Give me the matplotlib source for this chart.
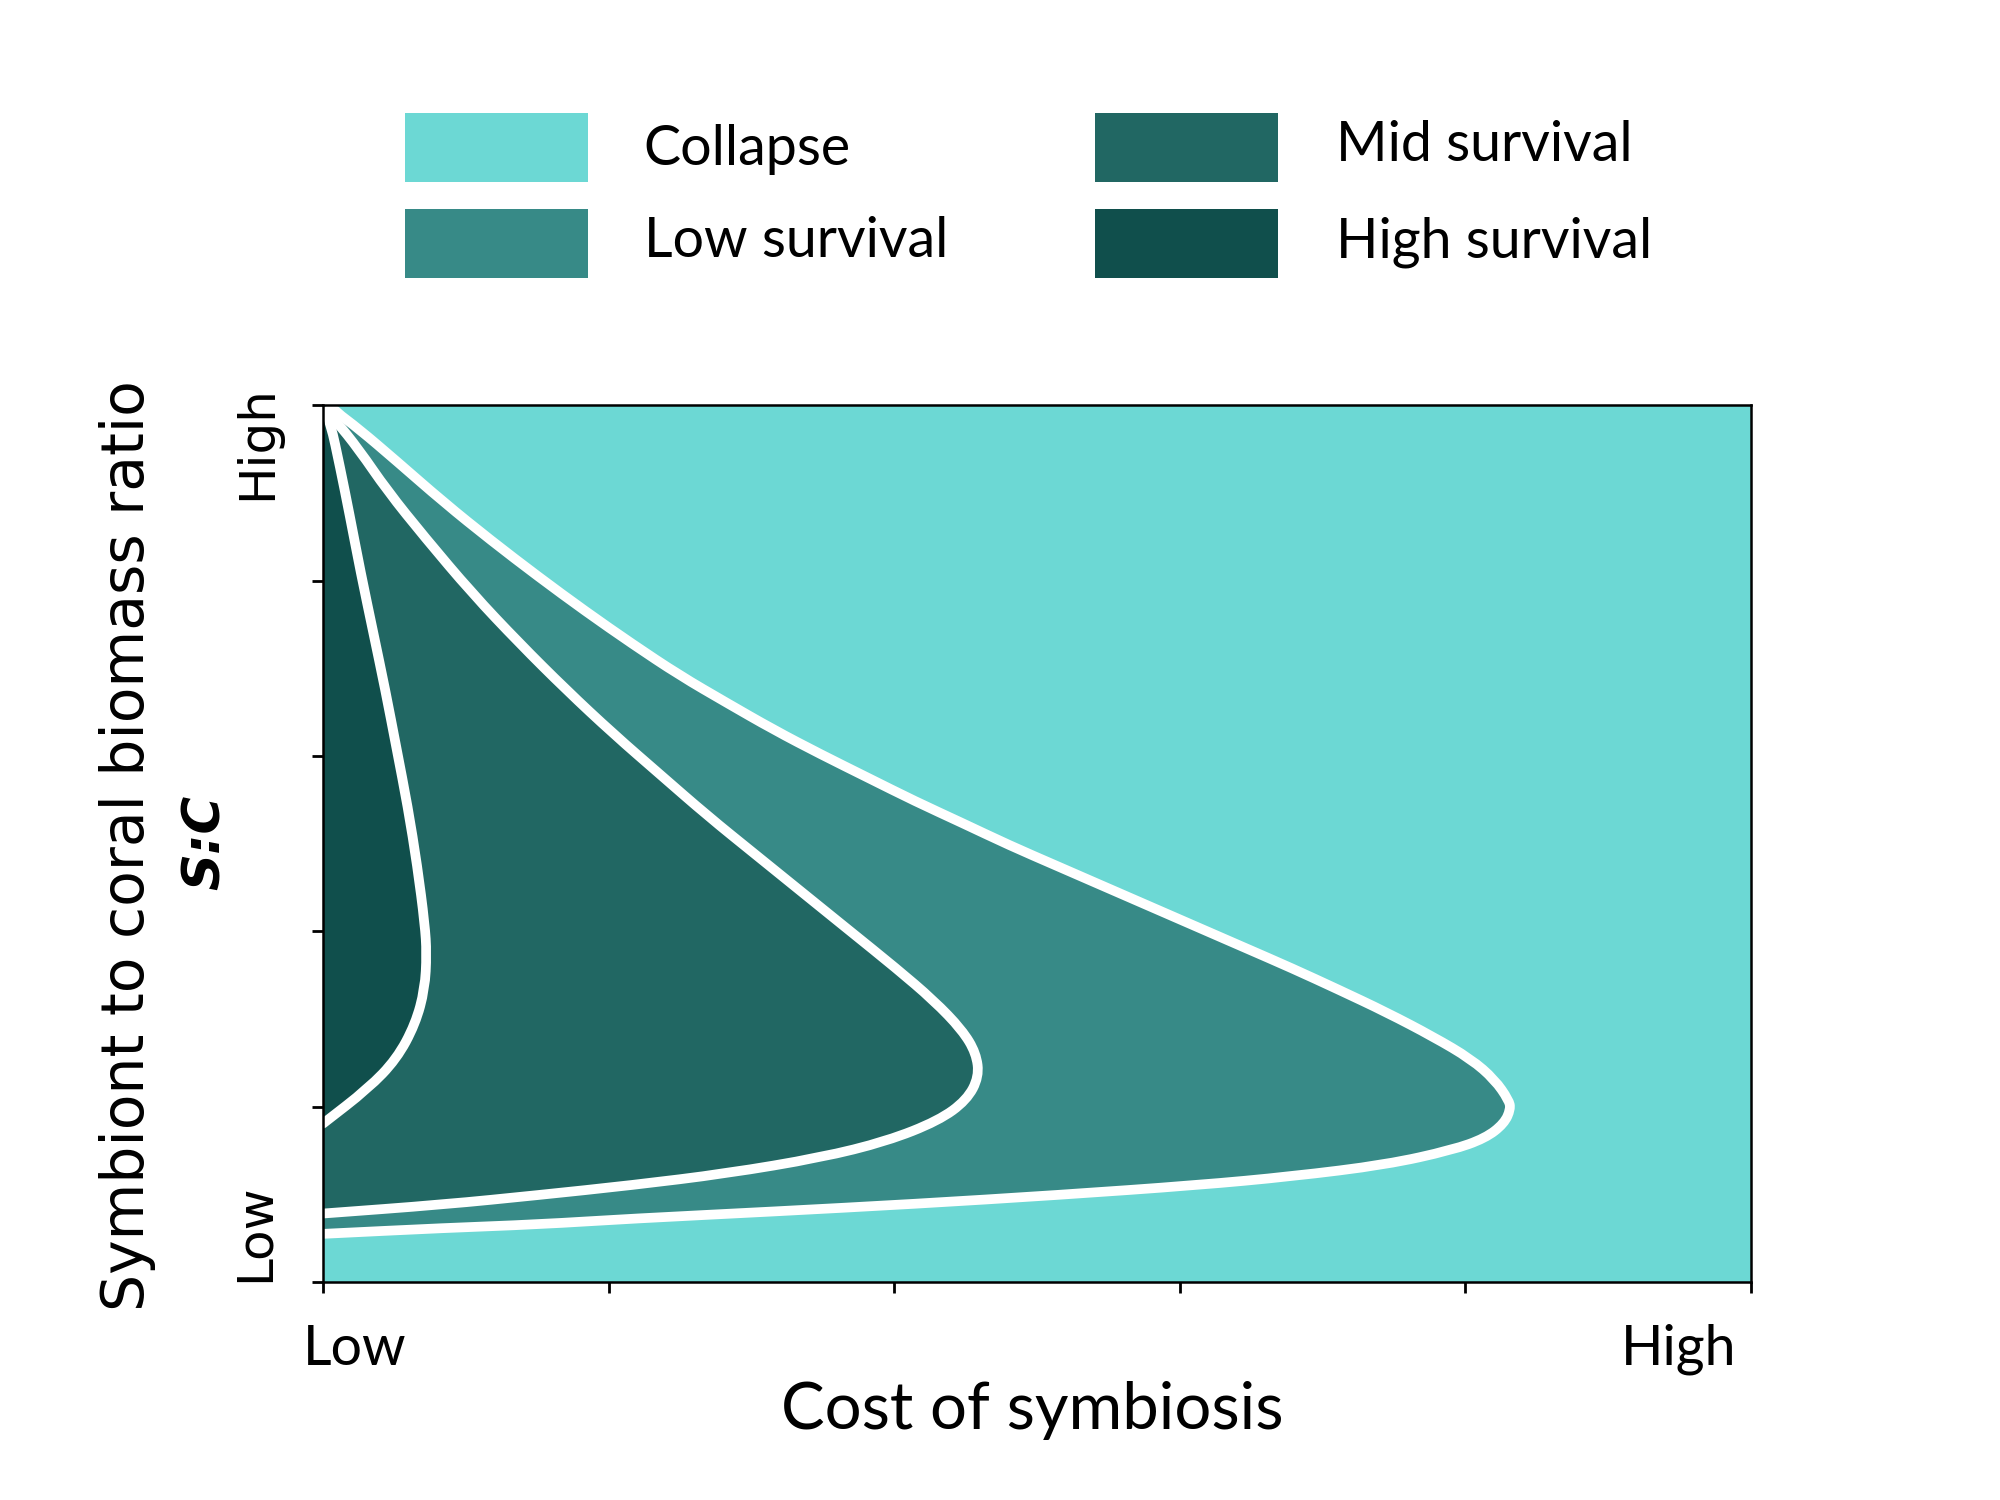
import matplotlib.pyplot as plt
from matplotlib.patches import Rectangle, PathPatch
from matplotlib.path import Path

# Survival regions over cost of symbiosis (x) and S:C ratio (y), both 0..1
categories = ["Collapse", "Low survival", "Mid survival", "High survival"]
colors = ["#6cd8d4", "#378a87", "#216763", "#104f4c"]

# boundary between low survival and collapse (top arm, tip, bottom arm)
outer_x = [0.0050, 0.0086, 0.0251, 0.0515, 0.0845, 0.1175, 0.1505, 0.1835,
           0.2165, 0.2495, 0.2825, 0.3155, 0.3485, 0.3815, 0.4145, 0.4475,
           0.4805, 0.5135, 0.5465, 0.5795, 0.6125, 0.6455, 0.6785, 0.7116,
           0.7446, 0.7776, 0.8040, 0.8205, 0.8304, 0.8317, 0.8271, 0.8139,
           0.7908, 0.7446, 0.6785, 0.6125, 0.5135, 0.4145, 0.3155, 0.2165,
           0.1505, 0.0845, 0.0]
outer_y = [1.0, 0.9933, 0.9732, 0.9365, 0.8896, 0.8462, 0.8050, 0.7655,
           0.7280, 0.6923, 0.6609, 0.6301, 0.6020, 0.5753, 0.5485, 0.5237,
           0.4983, 0.4749, 0.4515, 0.4281, 0.4047, 0.3813, 0.3579, 0.3331,
           0.3077, 0.2796, 0.2542, 0.2308, 0.2074, 0.1973, 0.1806, 0.1639,
           0.1505, 0.1338, 0.1204, 0.1104, 0.0990, 0.0890, 0.0803, 0.0722,
           0.0656, 0.0615, 0.0548]

# boundary between mid and low survival
mid_x = [0.0020, 0.0086, 0.0251, 0.0449, 0.0713, 0.1043, 0.1373, 0.1703,
         0.2033, 0.2363, 0.2693, 0.3023, 0.3353, 0.3683, 0.4013, 0.4277,
         0.4475, 0.4574, 0.4594, 0.4508, 0.4310, 0.3947, 0.3485, 0.2825,
         0.2165, 0.1505, 0.0845, 0.0]
mid_y = [0.9930, 0.9833, 0.9498, 0.9030, 0.8495, 0.7860, 0.7291, 0.6756,
         0.6254, 0.5786, 0.5318, 0.4883, 0.4448, 0.4013, 0.3579, 0.3211,
         0.2876, 0.2609, 0.2341, 0.2074, 0.1839, 0.1605, 0.1418, 0.1237,
         0.1104, 0.0990, 0.0883, 0.0780]

# boundary between high and mid survival
inner_x = [0.0020, 0.0053, 0.0119, 0.0185, 0.0264, 0.0350, 0.0436, 0.0515,
           0.0594, 0.0660, 0.0713, 0.0726, 0.0713, 0.0647, 0.0515, 0.0317, 0.0]
inner_y = [0.9930, 0.9799, 0.9298, 0.8763, 0.8094, 0.7425, 0.6756, 0.6087,
           0.5418, 0.4749, 0.4080, 0.3746, 0.3344, 0.2943, 0.2542, 0.2207, 0.1806]


def curve_path(xs, ys, close=False):
    """Quadratic curve through the traced points (points act as controls)."""
    pts = list(zip(xs, ys))
    verts = [pts[0]]
    codes = [Path.MOVETO]
    for i in range(1, len(pts) - 1):
        nxt = ((pts[i][0] + pts[i + 1][0]) / 2, (pts[i][1] + pts[i + 1][1]) / 2)
        verts += [pts[i], nxt]
        codes += [Path.CURVE3, Path.CURVE3]
    verts.append(pts[-1])
    codes.append(Path.LINETO)
    if close:
        verts += [(0, ys[0]), (0, 1), pts[0]]
        codes += [Path.LINETO, Path.LINETO, Path.CLOSEPOLY]
    return Path(verts, codes)


fig = plt.figure(figsize=(20, 15), dpi=100)
ax = fig.add_axes([0.1615, 0.1454, 0.714, 0.5843])
ax.set_xlim(0, 1)
ax.set_ylim(0, 1)
ax.set_facecolor(colors[0])

boundaries = [(outer_x, outer_y, colors[1]),
              (mid_x, mid_y, colors[2]),
              (inner_x, inner_y, colors[3])]

for bx, by, c in boundaries:
    ax.add_patch(PathPatch(curve_path(bx, by, close=True), facecolor=c,
                           edgecolor="none", zorder=1))

for bx, by, c in boundaries:
    ax.add_patch(PathPatch(curve_path(bx, by), facecolor="none",
                           edgecolor="white", lw=7, joinstyle="round",
                           capstyle="round", zorder=2))

for s in ax.spines.values():
    s.set_linewidth(1.8)
    s.set_zorder(3)

ax.set_xticks([0, 0.2, 0.4, 0.6, 0.8, 1.0])
ax.set_yticks([0, 0.2, 0.4, 0.6, 0.8, 1.0])
ax.set_xticklabels([])
ax.set_yticklabels([])
ax.tick_params(direction="out", length=8, width=2)

tick_font = "Lato"
ax.text(-0.014, -0.077, "Low", transform=ax.transAxes, fontsize=40,
        family=tick_font, ha="left", va="center")
ax.text(0.99, -0.077, "High", transform=ax.transAxes, fontsize=40,
        family=tick_font, ha="right", va="center")
ax.text(-0.046, 1.023, "High", transform=ax.transAxes, fontsize=36,
        family="DejaVu Sans", rotation=90, ha="center", va="top")
ax.text(-0.048, 0.0, "Low", transform=ax.transAxes, fontsize=36,
        family="DejaVu Sans", rotation=90, ha="center", va="bottom")

fig.text(0.516, 0.060, "Cost of symbiosis", fontsize=47, family=tick_font,
         ha="center", va="center")
fig.text(0.064, 0.436, "Symbiont to coral biomass ratio", fontsize=42,
         family="DejaVu Sans", rotation=90, ha="center", va="center")
fig.text(0.103, 0.4387, "S:C", fontsize=37, family="DejaVu Sans",
         weight="bold", style="italic", rotation=90, ha="center", va="center")

# legend, two columns of coloured boxes
box_x = [0.2026, 0.2026, 0.5474, 0.5474]
box_y = [0.8786, 0.8145, 0.8786, 0.8145]
label_x = [0.3218, 0.3218, 0.668, 0.668]
label_dy = [0.0217, 0.0243, 0.0246, 0.0243]
for i, name in enumerate(categories):
    fig.patches.append(Rectangle((box_x[i], box_y[i]), 0.0916, 0.0462,
                                 transform=fig.transFigure, facecolor=colors[i],
                                 edgecolor="none"))
    fig.text(label_x[i], box_y[i] + label_dy[i], name, fontsize=40,
             family=tick_font, ha="left", va="center")

fig.savefig("out.png", dpi=100)
